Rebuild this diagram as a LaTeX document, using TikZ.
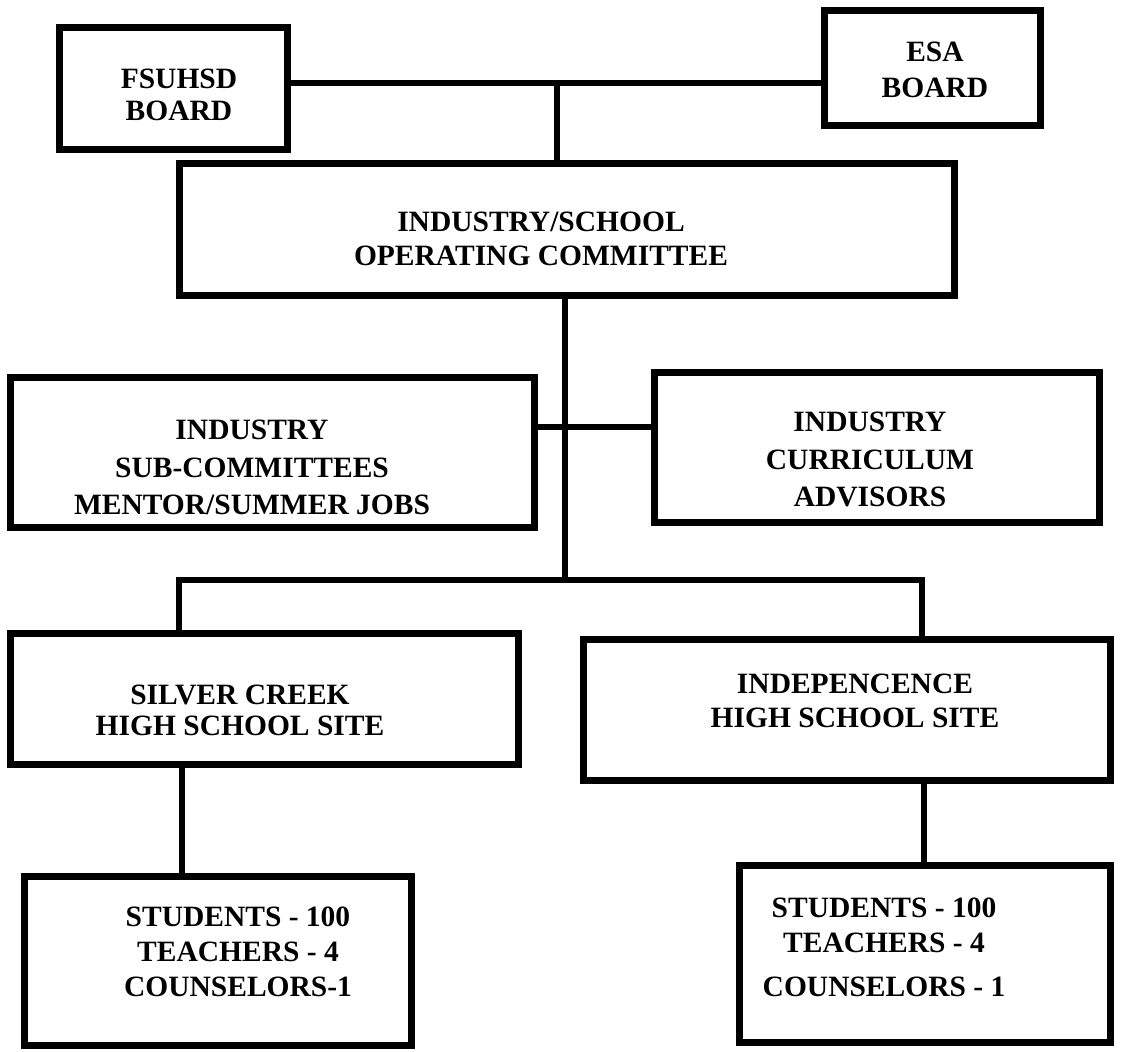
\documentclass[tikz,border=0pt]{standalone}
\usepackage{fontspec}
\setmainfont{Liberation Serif}
\begin{document}
\begin{tikzpicture}[x=1pt,y=-1pt,
  box/.style={draw, line width=7pt, rectangle, inner sep=0pt, outer sep=0pt},
  lbl/.style={align=center, inner sep=0pt, font=\fontsize{29.5pt}{#1}\selectfont\bfseries},
  lbl/.default=36pt,
  conn/.style={line width=6.5pt}]
\useasboundingbox (0,0) rectangle (1122,1052);

% boxes
\node[box, minimum width=228pt, minimum height=122pt] (fsuhsd) at (173,88) {};
\node[box, minimum width=216pt, minimum height=115pt] (esa) at (932,67.5) {};
\node[box, minimum width=775pt, minimum height=132pt] (comm) at (566.5,229) {};
\node[box, minimum width=524pt, minimum height=150pt] (sub) at (272,452) {};
\node[box, minimum width=445pt, minimum height=150pt] (adv) at (876.5,447) {};
\node[box, minimum width=508pt, minimum height=131pt] (silver) at (264,698.5) {};
\node[box, minimum width=527pt, minimum height=141pt] (indep) at (846.5,709.5) {};
\node[box, minimum width=387pt, minimum height=169pt] (studL) at (217.5,960.5) {};
\node[box, minimum width=371pt, minimum height=177pt] (studR) at (924.5,953.5) {};

% labels
\node[lbl=32pt] (fsuhsdT) at (179,95) {FSUHSD\\BOARD};
\node[lbl] (esaT) at (935,70) {ESA\\BOARD};
\node[lbl=34pt] (commT) at (541,239) {INDUSTRY/SCHOOL\\OPERATING COMMITTEE};
\node[lbl=37.5pt] (subT) at (252,467.5) {INDUSTRY\\SUB-COMMITTEES\\MENTOR/SUMMER JOBS};
\node[lbl=37.5pt] (advT) at (870,459.5) {INDUSTRY\\CURRICULUM\\ADVISORS};
\node[lbl=31pt] (silverT) at (240,710.5) {SILVER CREEK\\HIGH SCHOOL SITE};
\node[lbl=34pt] (indepT) at (855,701) {INDEPENCENCE\\HIGH SCHOOL SITE};
\node[lbl=35pt] (studLT) at (238,952) {STUDENTS - 100\\TEACHERS - 4\\COUNSELORS-1};
\node[lbl=35pt] (studRT) at (884,947.5) {STUDENTS - 100\\TEACHERS - 4\\[9pt]COUNSELORS - 1};

% connectors
\coordinate (tj) at (557,83);
\draw[conn] (fsuhsd.east |- tj) -- (esa.west |- tj);
\draw[conn] (tj) -- (tj |- comm.north);
\coordinate (bj) at (565,580);
\draw[conn] (bj |- comm.south) -- (bj);
\coordinate (mj) at (565,427);
\draw[conn] (sub.east |- mj) -- (adv.west |- mj);
\coordinate (bl) at (179,580);
\coordinate (br) at (922,580);
\draw[conn] (bl |- silver.north) -- (bl) -- (br) -- (br |- indep.north);
\coordinate (dl) at (182,820);
\draw[conn] (dl |- silver.south) -- (dl |- studL.north);
\coordinate (dr) at (924,820);
\draw[conn] (dr |- indep.south) -- (dr |- studR.north);
\end{tikzpicture}
\end{document}
